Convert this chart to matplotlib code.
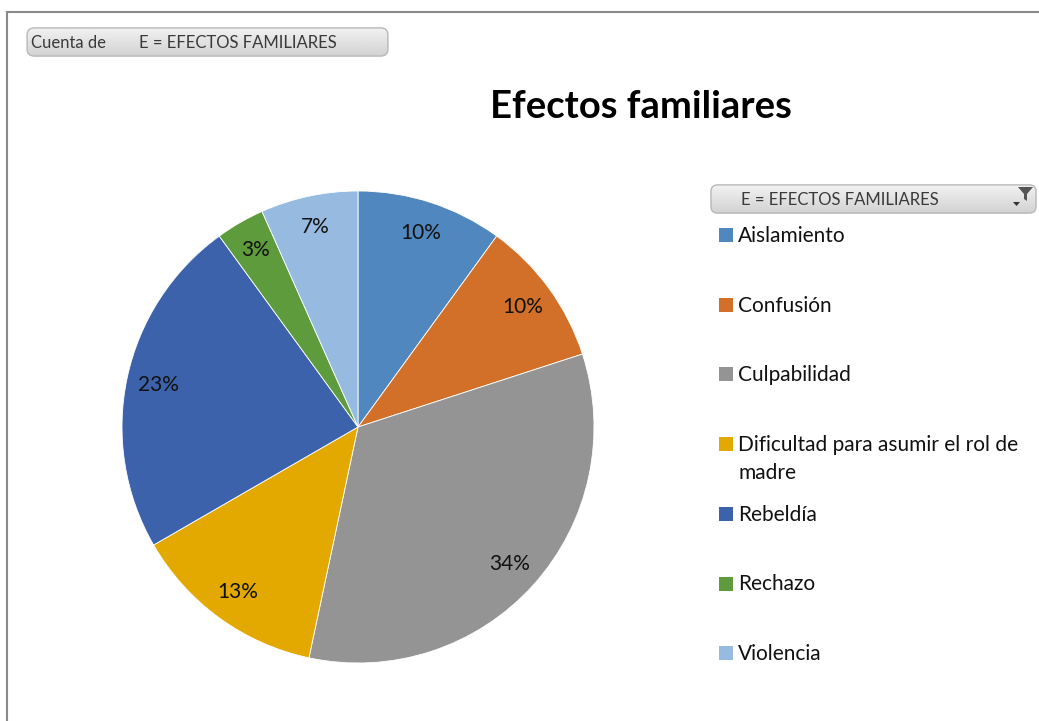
import numpy as np
import matplotlib
matplotlib.use("Agg")
import matplotlib.pyplot as plt
from matplotlib.patches import FancyBboxPatch, Rectangle, Polygon
from matplotlib.lines import Line2D

plt.rcParams['font.family'] = ['Lato', 'DejaVu Sans']

# data (counts of answers, 30 in total)
categories = ['Aislamiento', 'Confusión', 'Culpabilidad',
              'Dificultad para asumir el rol de\nmadre', 'Rebeldía', 'Rechazo', 'Violencia']
counts = [3, 3, 10, 4, 7, 1, 2]
pct_labels = ['10%', '10%', '34%', '13%', '23%', '3%', '7%']
colors = ['#4F87BE', '#D2702A', '#949494', '#E3A900', '#3C62AB', '#5E9B3C', '#97BAE0']

W, H = 1039, 721
fig = plt.figure(figsize=(W / 100, H / 100), dpi=100)
fig.patch.set_facecolor('white')

def fx(px):
    return px / W

def fy(py):
    return 1 - py / H

# outer frame (top and left edges only visible)
fig.add_artist(Line2D([fx(7), 1], [fy(12), fy(12)], color='#8a8a8a', lw=1.5))
fig.add_artist(Line2D([fx(7), fx(7)], [fy(12), 0], color='#8a8a8a', lw=1.5))


def button(x0, y0, x1, y1):
    # grey rounded button with vertical gradient
    bax = fig.add_axes([fx(x0), fy(y1), fx(x1 - x0), (y1 - y0) / H])
    bax.set_axis_off()
    grad = np.linspace(0.95, 0.82, 50).reshape(-1, 1)
    im = bax.imshow(grad, cmap='gray', vmin=0, vmax=1, aspect='auto',
                    extent=[0, 1, 0, 1], origin='upper')
    patch = FancyBboxPatch((0.003, 0.03), 0.994, 0.94,
                           boxstyle='round,pad=0,rounding_size=0.02',
                           mutation_aspect=(x1 - x0) / (y1 - y0),
                           transform=bax.transAxes, facecolor='none',
                           edgecolor='#b8b8b8', lw=1)
    bax.add_patch(patch)
    im.set_clip_path(patch)
    bax.set_xlim(0, 1)
    bax.set_ylim(0, 1)
    return bax


# pivot field buttons
button(26, 27, 389, 57)
fig.text(fx(31), fy(43), 'Cuenta de', fontsize=12, color='#3a3a3a', va='center')
fig.text(fx(139), fy(43), 'E = EFECTOS FAMILIARES', fontsize=12, color='#3a3a3a', va='center')

hb = button(710, 184, 1037, 214)
fig.text(fx(741), fy(200), 'E = EFECTOS FAMILIARES', fontsize=12, color='#3a3a3a', va='center')
# filter icon
fig.add_artist(Polygon([[fx(1018), fy(187)], [fx(1033), fy(187)], [fx(1027), fy(194)],
                        [fx(1027), fy(201)], [fx(1024), fy(199)], [fx(1024), fy(194)]],
                       closed=True, facecolor='#555555', edgecolor='none'))
fig.add_artist(Polygon([[fx(1013), fy(202)], [fx(1020), fy(202)], [fx(1016.5), fy(206)]],
                       closed=True, facecolor='#333333', edgecolor='none'))

# title
fig.text(fx(641), fy(107), 'Efectos familiares', fontsize=27.5, fontweight='bold',
         ha='center', va='center', color='black')

# pie
cx, cy, r = 358, 427, 236
ax = fig.add_axes([fx(cx - r), fy(cy + r), fx(2 * r), 2 * r / H])
wedges, _ = ax.pie(counts, colors=colors, startangle=90, counterclock=False,
                   radius=1, wedgeprops=dict(edgecolor='white', linewidth=0.6))
ax.set_xlim(-1, 1)
ax.set_ylim(-1, 1)
ax.set_aspect('equal')
ax.set_axis_off()
for w, lab in zip(wedges, pct_labels):
    ang = np.deg2rad((w.theta1 + w.theta2) / 2)
    ax.text(0.865 * np.cos(ang), 0.865 * np.sin(ang), lab, ha='center', va='center',
            fontsize=15, color='#111111')

# legend (Excel keeps a fixed step between entries)
first_y = 235
step = 69.7
line_h = 28
for i, (cat, col) in enumerate(zip(categories, colors)):
    y = first_y + i * step
    fig.add_artist(Rectangle((fx(719), fy(y + 7)), fx(14), 14 / H,
                             facecolor=col, edgecolor='none'))
    for j, line in enumerate(cat.split('\n')):
        fig.text(fx(738), fy(y + 7 + j * line_h), line, fontsize=15,
                 color='#111111', va='baseline')

fig.savefig('out.png', dpi=100)
